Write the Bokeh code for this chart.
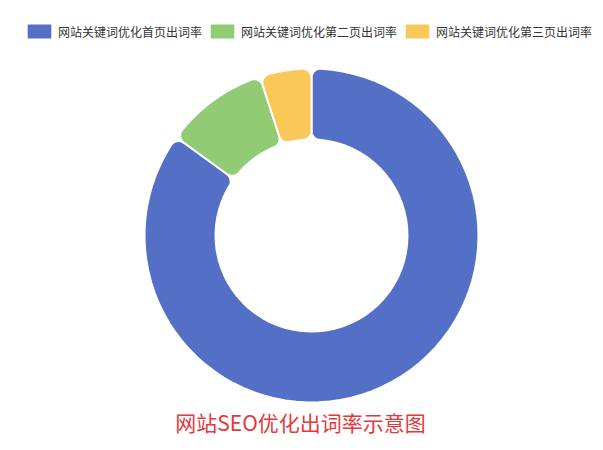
import numpy as np
from bokeh.plotting import figure
from bokeh.models import ColumnDataSource, Range1d, Label
from bokeh.embed import file_html
from bokeh.resources import INLINE

# ---- data ----
labels = ["网站关键词优化首页出词率", "网站关键词优化第二页出词率", "网站关键词优化第三页出词率"]
values = [85, 10, 5]
colors = ["#5470c6", "#91cc75", "#fac858"]
title_text = "网站SEO优化出词率示意图"

# ---- geometry (data units = screen pixels) ----
W, H = 595, 442
CX, CY = 311, 235          # donut centre inside the frame (from top-left)
R_OUT, R_IN, CORNER = 167, 96, 9


def arc(cx, cy, r, a0, a1, n=24):
    t = np.linspace(a0, a1, n)
    return cx + r * np.cos(t), cy + r * np.sin(t)


def rounded_sector(lo, hi, ro, ri, rc):
    xs, ys = [], []
    do = np.arcsin(rc / (ro - rc))
    di = np.arcsin(rc / (ri + rc))
    x, y = arc(0, 0, ro, lo + do, hi - do, 80); xs += list(x); ys += list(y)
    c = (ro - rc) * np.array([np.cos(hi - do), np.sin(hi - do)])
    x, y = arc(c[0], c[1], rc, hi - do, hi + np.pi / 2); xs += list(x); ys += list(y)
    c = (ri + rc) * np.array([np.cos(hi - di), np.sin(hi - di)])
    x, y = arc(c[0], c[1], rc, hi + np.pi / 2, hi - di + np.pi); xs += list(x); ys += list(y)
    x, y = arc(0, 0, ri, hi - di, lo + di, 60); xs += list(x); ys += list(y)
    c = (ri + rc) * np.array([np.cos(lo + di), np.sin(lo + di)])
    x, y = arc(c[0], c[1], rc, lo + di + np.pi, lo + 1.5 * np.pi); xs += list(x); ys += list(y)
    c = (ro - rc) * np.array([np.cos(lo + do), np.sin(lo + do)])
    x, y = arc(c[0], c[1], rc, lo + 1.5 * np.pi, lo + do + 2 * np.pi); xs += list(x); ys += list(y)
    return xs, ys


total = float(sum(values))
start = np.pi / 2
xs_all, ys_all = [], []
for v in values:
    sweep = 2 * np.pi * v / total
    hi = start
    lo = start - sweep
    xs, ys = rounded_sector(lo, hi, R_OUT, R_IN, CORNER)
    xs_all.append(xs)
    ys_all.append(ys)
    start = lo

src = ColumnDataSource(dict(xs=xs_all, ys=ys_all, color=colors, label=labels))

p = figure(width=W, height=H, output_backend="svg", toolbar_location=None,
           x_range=Range1d(-CX, W - CX), y_range=Range1d(-(H - CY), CY),
           min_border=0, outline_line_color=None)
p.axis.visible = False
p.grid.visible = False
p.background_fill_color = "white"
p.border_fill_color = "white"

p.patches("xs", "ys", source=src, fill_color="color", line_color="white",
          line_width=2, legend_field="label")

GW, GH = 32, 20
legend = p.legend[0]
legend.orientation = "horizontal"
legend.location = (23, H - 21 - GH)
legend.padding = 0
legend.margin = 0
legend.spacing = 4
legend.glyph_width = GW
legend.glyph_height = GH
legend.label_height = GH
legend.label_standoff = 3
legend.label_text_font = "Noto Sans CJK SC"
legend.label_text_font_size = "12px"
legend.label_text_color = "#333333"
legend.label_text_baseline = "middle"
legend.border_line_color = None
legend.background_fill_alpha = 0

title = Label(x=300 - CX, y=CY - 421, text=title_text,
              text_font="Noto Sans CJK SC", text_font_size="21px",
              text_color="#e5383b", text_align="center", text_baseline="middle")
p.add_layout(title)

open("out.html", "w").write(file_html(p, INLINE))
